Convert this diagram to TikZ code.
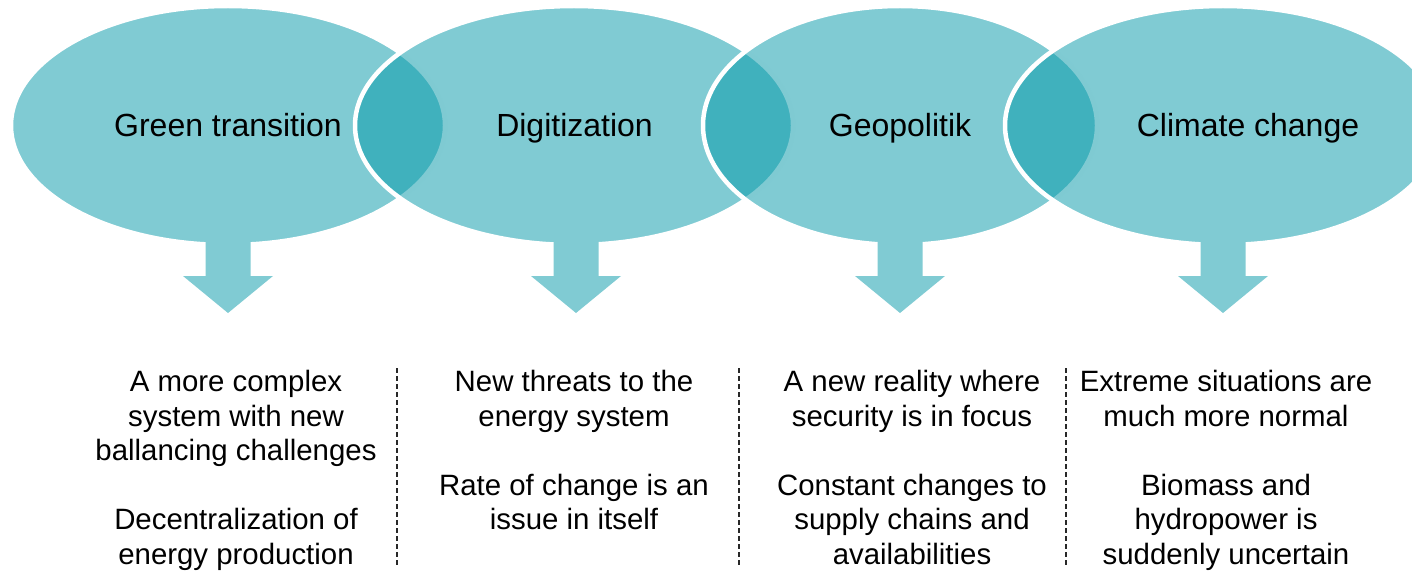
\documentclass[tikz,border=0pt]{standalone}
\usepackage{fontspec}
\setmainfont{Liberation Sans}
\definecolor{tealbase}{RGB}{1,151,167}
\definecolor{teallight}{RGB}{128,203,211}
\definecolor{dividergray}{RGB}{40,40,40}
\begin{document}
\begin{tikzpicture}[x=1pt, y=-1pt,
  bubble/.style={fill=tealbase, fill opacity=0.5, draw=white, draw opacity=1, line width=4.5pt},
  blockarrow/.pic={\fill[teallight] (-22.5,-5) -- (22.5,-5) -- (22.5,31) -- (45,31) -- (0,68) -- (-45,31) -- (-22.5,31) -- cycle;},
  title/.style={font=\fontsize{32}{38}\selectfont, anchor=base, inner sep=0pt},
  body/.style={font=\fontsize{29.4}{34.5}\selectfont, align=center, anchor=north, inner sep=0pt},
  divider/.style={draw=dividergray, line width=1.6pt, dash pattern=on 5pt off 3pt}]
\useasboundingbox (0,0) rectangle (1412,572);
\clip (0,0) rectangle (1412,572);

% overlapping topic bubbles, left to right
\path[bubble] (228,125.5) ellipse [x radius=217pt, y radius=119.5pt];
\path[bubble] (574,125.5) ellipse [x radius=219pt, y radius=119.5pt];
\path[bubble] (900,125.5) ellipse [x radius=197pt, y radius=119.5pt];
\path[bubble] (1223,125.5) ellipse [x radius=218pt, y radius=119.5pt];

% block arrows below each bubble
\pic at (228,245) {blockarrow};
\pic at (576,245) {blockarrow};
\pic at (900,245) {blockarrow};
\pic at (1223,245) {blockarrow};

% bubble titles
\node[title] (t1) at (228,137) {Green transition};
\node[title] (t2) at (574.5,137) {Digitization};
\node[title] (t3) at (900,137) {Geopolitik};
\node[title] (t4) at (1248,137) {Climate change};

% consequences
\node[body] (b1) at (236,370) {A more complex\\system with new\\ballancing challenges\\[34.5pt]Decentralization of\\energy production};
\node[body] (b2) at (574,370) {New threats to the\\energy system\\[34.5pt]Rate of change is an\\issue in itself};
\node[body] (b3) at (912,370) {A new reality where\\security is in focus\\[34.5pt]Constant changes to\\supply chains and\\availabilities};
\node[body] (b4) at (1226,370) {Extreme situations are\\much more normal\\[34.5pt]Biomass and\\hydropower is\\suddenly uncertain};

% dashed column dividers
\coordinate (d1t) at (397,368); \coordinate (d1b) at (397,565);
\coordinate (d2t) at (739,368); \coordinate (d2b) at (739,565);
\coordinate (d3t) at (1066,368); \coordinate (d3b) at (1066,565);
\draw[divider] (d1t) -- (d1b);
\draw[divider] (d2t) -- (d2b);
\draw[divider] (d3t) -- (d3b);
\end{tikzpicture}
\end{document}
